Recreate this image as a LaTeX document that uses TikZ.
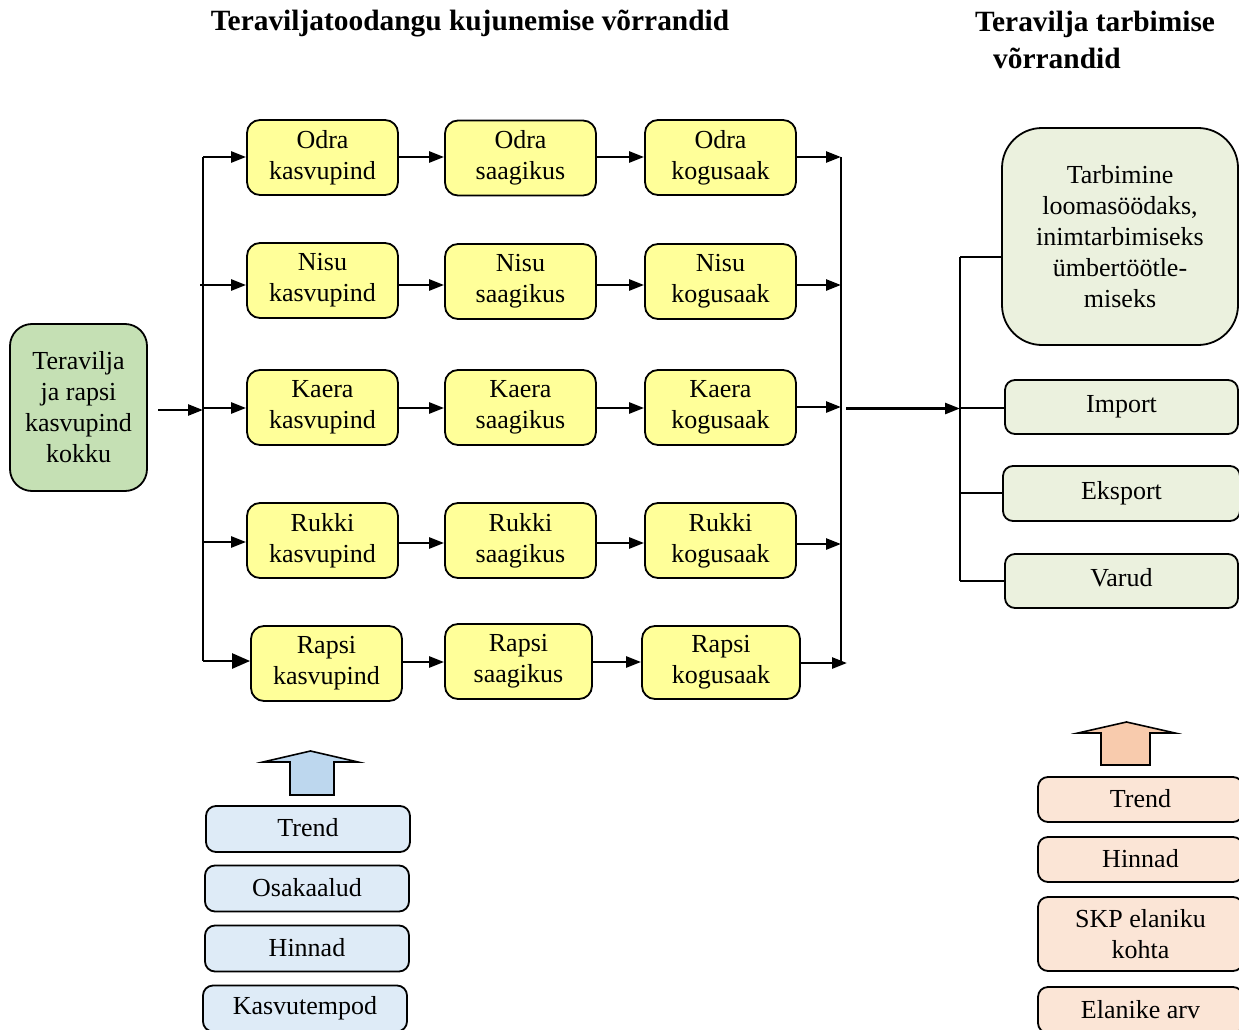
\documentclass[tikz,border=0pt]{standalone}
\usepackage{fontspec}
\setmainfont{Liberation Serif}
\usetikzlibrary{arrows.meta}
\definecolor{yboxc}{RGB}{255,255,153}
\definecolor{gleft}{RGB}{197,224,180}
\definecolor{gright}{RGB}{235,241,222}
\definecolor{bbox}{RGB}{222,235,247}
\definecolor{barrow}{RGB}{189,215,238}
\definecolor{obox}{RGB}{251,229,214}
\definecolor{oarrow}{RGB}{248,203,173}
\newcommand\bodyfs{\fontsize{26}{31}\selectfont}
\newcommand\titlefs{\fontsize{29.4}{34}\selectfont\bfseries}
\newcommand\up[2]{\raisebox{#1pt}{#2}}
\tikzset{
  basebox/.style={draw=black, line width=1.8pt, rounded corners=13pt, align=center, inner sep=0pt, font=\bodyfs},
  ybox/.style={basebox, fill=yboxc, minimum width=151pt, minimum height=75pt},
  gbox/.style={basebox, fill=gright, rounded corners=10pt},
  bluebox/.style={basebox, fill=bbox, rounded corners=10pt, minimum width=204pt, minimum height=46pt},
  orbox/.style={basebox, fill=obox, rounded corners=10pt, minimum width=205pt},
  arr/.style={line width=2.6pt, -{Triangle[length=15pt,width=11pt]}},
  bigarr/.style={line width=2.6pt, -{Triangle[length=18pt,width=15pt]}},
  bus/.style={line width=2pt},
  thin/.style={line width=1.6pt},
  blockarr/.style={draw=black, line width=1.6pt},
  title/.style={font=\titlefs, inner sep=0pt, align=left}
}
\begin{document}
\begin{tikzpicture}[x=1pt,y=-1pt]
\useasboundingbox (0,0) rectangle (1239,1030);
\fill[white] (0,0) rectangle (1239,1030);

% titles
\node[title] (t1) at (470,24) {Teraviljatoodangu kujunemise võrrandid};
\node[title, anchor=west] (t2) at (975,24) {Teravilja tarbimise};
\node[title, anchor=west] (t3) at (993,58) {võrrandid};

% left input box
\node[basebox, fill=gleft, rounded corners=22pt, minimum width=137pt, minimum height=167pt] (tot) at (78.5,407.5) {Teravilja\\ja rapsi\\kasvupind\\kokku};

% yellow boxes
\node[ybox] (a1) at (322.5,157.5) {Odra\\kasvupind};
\node[ybox] (b1) at (520.5,158) {Odra\\saagikus};
\node[ybox] (c1) at (720.5,157.5) {Odra\\kogusaak};

\node[ybox] (a2) at (322.5,280.5) {Nisu\\kasvupind};
\node[ybox] (b2) at (520.5,281.5) {Nisu\\saagikus};
\node[ybox] (c2) at (720.5,281.5) {Nisu\\kogusaak};

\node[ybox] (a3) at (322.5,407.5) {Kaera\\kasvupind};
\node[ybox] (b3) at (520.5,407.5) {Kaera\\saagikus};
\node[ybox] (c3) at (720.5,407.5) {Kaera\\kogusaak};

\node[ybox] (a4) at (322.5,540.5) {Rukki\\kasvupind};
\node[ybox] (b4) at (520.5,540.5) {Rukki\\saagikus};
\node[ybox] (c4) at (720.5,540.5) {Rukki\\kogusaak};

\node[ybox] (a5) at (326.5,663.5) {Rapsi\\kasvupind};
\node[ybox, minimum width=147pt] (b5) at (518.5,661.5) {Rapsi\\saagikus};
\node[ybox, minimum width=158pt, minimum height=73pt] (c5) at (721,662.5) {Rapsi\\kogusaak};

% left bus
\coordinate (L1) at (203,157);
\coordinate (L2) at (200,285);
\coordinate (L3) at (203,408);
\coordinate (L4) at (203,542);
\coordinate (L5) at (203,661);
\coordinate (Lt) at (203,157);
\coordinate (Lbot) at (203,661);
\coordinate (In) at (158,410);
\coordinate (Inend) at (203,410);
\draw[bus] (Lt) -- (Lbot);
\draw[arr] (In) -- (Inend);
\draw[arr] (L1) -- (a1.west |- L1);
\draw[arr] (L2) -- (a2.west |- L2);
\draw[arr] (L3) -- (a3.west |- L3);
\draw[arr] (L4) -- (a4.west |- L4);
\draw[bigarr] (L5) -- (a5.west |- L5);

% row arrows
\draw[arr] (a1.east |- 0,157) -- (b1.west |- 0,157);
\draw[arr] (b1.east |- 0,157) -- (c1.west |- 0,157);
\draw[arr] (a2.east |- 0,285) -- (b2.west |- 0,285);
\draw[arr] (b2.east |- 0,285) -- (c2.west |- 0,285);
\draw[arr] (a3.east |- 0,408) -- (b3.west |- 0,408);
\draw[arr] (b3.east |- 0,408) -- (c3.west |- 0,408);
\draw[arr] (a4.east |- 0,543) -- (b4.west |- 0,543);
\draw[arr] (b4.east |- 0,543) -- (c4.west |- 0,543);
\draw[arr] (a5.east |- 0,662) -- (b5.west |- 0,662);
\draw[arr] (b5.east |- 0,662) -- (c5.west |- 0,662);

% right bus
\coordinate (Rt) at (841,157);
\coordinate (Rbot) at (841,663);
\draw[bus] (Rt) -- (Rbot);
\draw[arr] (c1.east |- 0,157) -- (841,157);
\draw[arr] (c2.east |- 0,285) -- (841,285);
\draw[arr] (c3.east |- 0,407) -- (841,407);
\draw[arr] (c4.east |- 0,544) -- (841,544);
\draw[arr] (c5.east |- 0,663) -- (847,663);
\coordinate (Mid1) at (846,408.5);
\coordinate (Mid2) at (960,408.5);
\draw[arr] (Mid1) -- (Mid2);

% consumption boxes
\node[gbox, rounded corners=40pt, minimum width=236pt, minimum height=217pt] (tarb) at (1120,236.5) {Tarbimine\\loomasöödaks,\\inimtarbimiseks\\ümbertöötle-\\miseks};
\node[gbox, minimum width=233pt, minimum height=54pt] (imp) at (1121.5,407) {\up{7}{Import}};
\node[gbox, minimum width=237pt, minimum height=55pt] (eks) at (1121.5,493.5) {\up{7}{Eksport}};
\node[gbox, minimum width=233pt, minimum height=54pt] (var) at (1121.5,581) {\up{7}{Varud}};

\coordinate (V1) at (960,257);
\coordinate (V4) at (960,581);
\draw[thin] (V1) -- (V4);
\draw[thin] (V1) -- (tarb.west |- V1);
\draw[thin] (960,408) -- (imp.west |- 0,408);
\draw[thin] (960,493) -- (eks.west |- 0,493);
\draw[thin] (V4) -- (var.west |- V4);

% blue block arrow and boxes
\draw[blockarr, fill=barrow] (290,795) -- (290,762) -- (263,762) -- (310.5,751) -- (358,762) -- (334,762) -- (334,795) -- cycle;
\node[bluebox] (bt) at (308,829) {\up{3}{Trend}};
\node[bluebox] (bo) at (307,888.5) {\up{3}{Osakaalud}};
\node[bluebox] (bh) at (307,948.5) {\up{3}{Hinnad}};
\node[bluebox] (bk) at (305,1008.5) {\up{2}{Kasvutempod}};

% orange block arrow and boxes
\draw[blockarr, fill=oarrow] (1101,765) -- (1101,733) -- (1078,733) -- (1126.5,722) -- (1175,733) -- (1150,733) -- (1150,765) -- cycle;
\node[orbox, minimum height=45pt] (ot) at (1140.5,799.5) {\up{3}{Trend}};
\node[orbox, minimum height=45pt] (oh) at (1140.5,859.5) {\up{3}{Hinnad}};
\node[orbox, minimum height=74pt] (os) at (1140.5,934) {SKP elaniku\\kohta};
\node[orbox, minimum height=46pt] (oe) at (1140.5,1010) {\up{2}{Elanike arv}};
\end{tikzpicture}
\end{document}
